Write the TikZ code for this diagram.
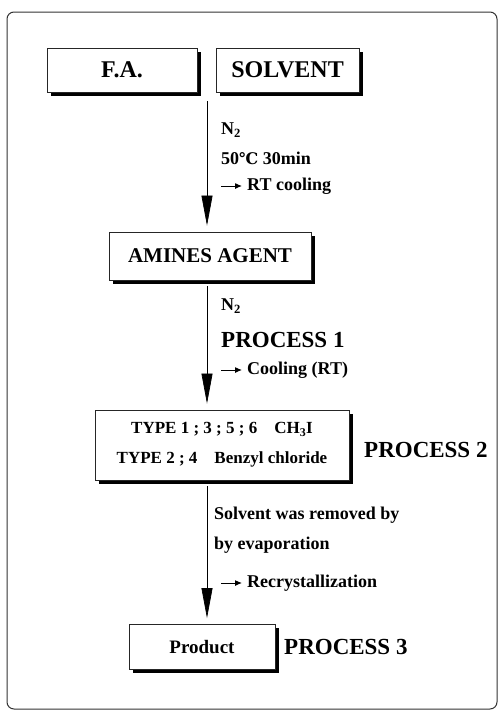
\documentclass[tikz,border=0pt]{standalone}
\usepackage{fontspec}
\setmainfont{Liberation Serif}
\newfontfamily\symfont{DejaVu Serif}
\usetikzlibrary{arrows.meta,shadows}

\tikzset{
  stepbox/.style={draw=black!85, line width=0.8pt, fill=white, inner sep=0pt,
    general shadow={fill=black, shadow xshift=3.5pt, shadow yshift=-3.5pt}},
  flow/.style={line width=0.7pt, -{Triangle[length=30pt,width=11pt]}, shorten >=6pt, shorten <=6pt},
  note/.style={anchor=west, inner sep=0pt, font=\fontsize{18}{21}\selectfont\bfseries},
  procname/.style={anchor=west, inner sep=0pt, font=\fontsize{23}{26}\selectfont\bfseries},
  hint/.style={line width=1pt, -{Latex[length=7pt,width=6pt]}, shorten >=5pt},
}

\begin{document}
\begin{tikzpicture}[x=1pt, y=-1pt]
    \useasboundingbox (0,0) rectangle (503,715);

    % Frame
    \draw[line width=1pt, black!80, rounded corners=7pt] (7,12) rectangle (497,709);

    % Boxes
    \node[stepbox, minimum width=150pt, minimum height=44pt, font=\fontsize{24}{26}\selectfont\bfseries] (fa) at (122,70) {F.A.};
    \node[stepbox, minimum width=143pt, minimum height=44pt, font=\fontsize{24}{26}\selectfont\bfseries] (solvent) at (287.5,70) {SOLVENT};
    \node[stepbox, minimum width=202pt, minimum height=48pt, font=\fontsize{21}{24}\selectfont\bfseries] (amines) at (210,256) {AMINES AGENT};
    \node[stepbox, minimum width=254pt, minimum height=70pt, align=center, font=\fontsize{17}{20}\selectfont\bfseries] (types) at (222,445)
        {TYPE 1 ; 3 ; 5 ; 6\quad CH\textsubscript{3}I\\[10pt] TYPE 2 ; 4\quad Benzyl chloride};
    \node[stepbox, minimum width=146pt, minimum height=45pt, font=\fontsize{19}{22}\selectfont\bfseries] (product) at (202,647) {Product};

    % Main flow
    \coordinate (split) at (207,95);
    \draw[flow] (split) -- (split |- amines.north);
    \draw[flow] (split |- amines.south) -- (split |- types.north);
    \draw[flow] (split |- types.south) -- (split |- product.north);

    % Step 1 conditions
    \node[note] (gas1) at (221,130) {N\textsubscript{2}};
    \node[note] (heat) at (221,158) {50{\symfont\fontsize{16}{20}\selectfont ℃} 30min};
    \coordinate (h1) at (221,186);
    \node[note] (rt) at (247,186) {RT cooling};
    \draw[hint] (h1) -- (rt.west);

    % Step 2 conditions
    \node[note] (gas2) at (221,306) {N\textsubscript{2}};
    \node[procname] (p1) at (221,340) {PROCESS 1};
    \coordinate (h2) at (221,370);
    \node[note] (cool) at (247,370) {Cooling (RT)};
    \draw[hint] (h2) -- (cool.west);

    \node[procname] (p2) at (364,450) {PROCESS 2};

    % Step 3 conditions
    \node[note] (evap1) at (214,515) {Solvent was removed by};
    \node[note] (evap2) at (214,545) {by evaporation};
    \coordinate (h3) at (221,583);
    \node[note] (recr) at (247,583) {Recrystallization};
    \draw[hint] (h3) -- (recr.west);

    \node[procname] (p3) at (284,647) {PROCESS 3};
\end{tikzpicture}
\end{document}
